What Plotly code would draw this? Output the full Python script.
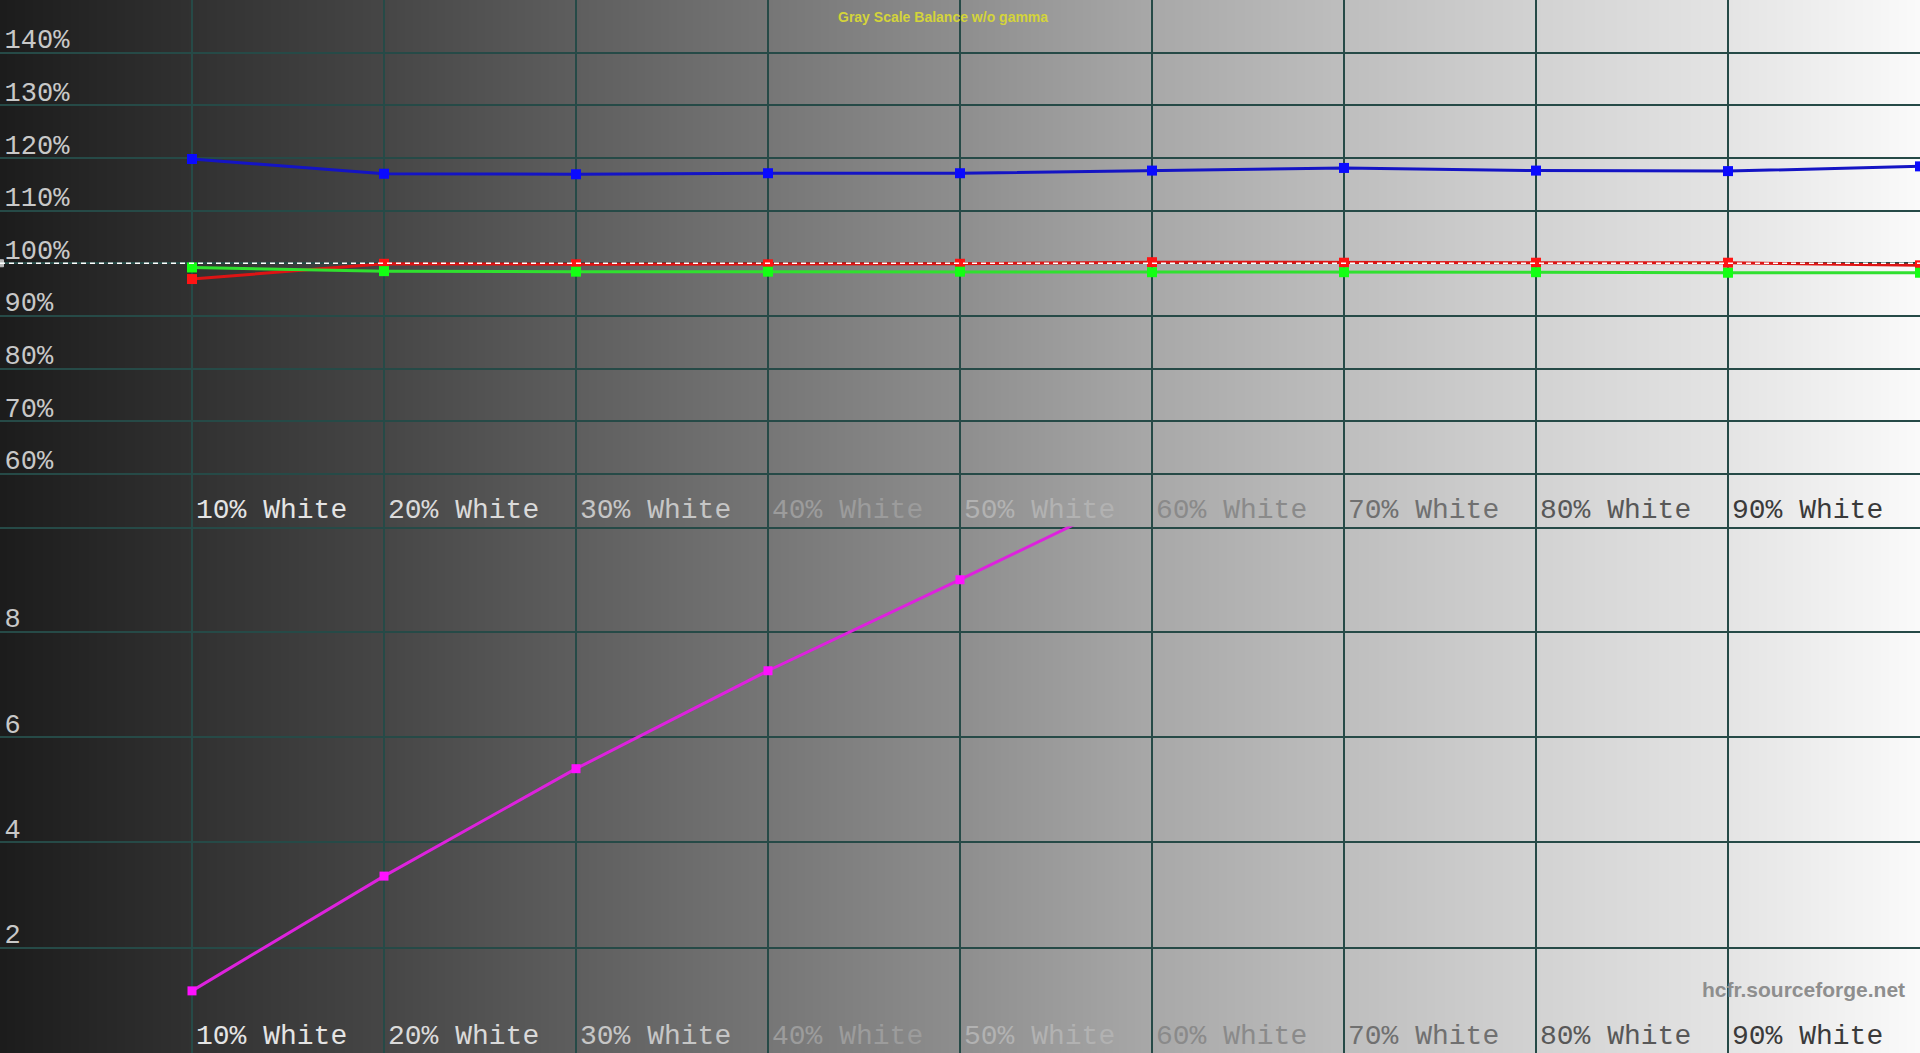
import base64
import struct
import zlib

import numpy as np
import plotly.graph_objects as go
from plotly.subplots import make_subplots

# ── Data ─────────────────────────────────────────────────────────────────────
LEVELS = [10, 20, 30, 40, 50, 60, 70, 80, 90, 100]
LEVEL_LABELS = ["10% White", "20% White", "30% White", "40% White", "50% White",
                "60% White", "70% White", "80% White", "90% White"]

RED = [97.0, 99.9, 99.8, 99.8, 99.9, 100.2, 100.1, 100.1, 100.1, 99.6]
GREEN = [99.2, 98.5, 98.4, 98.4, 98.4, 98.3, 98.3, 98.3, 98.2, 98.2]
BLUE = [119.8, 117.0, 116.9, 117.1, 117.1, 117.6, 118.1, 117.6, 117.5, 118.4]

DELTA_LEVELS = [10, 20, 30, 40, 50, 60]
DELTA_E = [1.18, 3.36, 5.40, 7.26, 8.99, 10.75]

REF_X = [0, 100]
REF_Y = [100, 100]

BAL_TICKS = [60, 70, 80, 90, 100, 110, 120, 130, 140]
BAL_TICKTEXT = ["60%", "70%", "80%", "90%", "100%", "110%", "120%", "130%", "140%"]
DE_TICKS = [2, 4, 6, 8]
DE_TICKTEXT = ["2", "4", "6", "8"]

# grey ramp behind the chart (stimulus level -> grey value)
RAMP_X = [0, 10, 20, 30, 40, 50, 60, 70, 80, 90, 100]
RAMP_GREY = [28, 49, 70, 94, 118, 142, 168, 190, 210, 228, 250]

# label colours follow the ramp (light on dark, dark on light)
LABEL_COLORS = ["#e4e4e4", "#dadada", "#c6c6c6", "#9c9c9c", "#b2b2b2",
                "#8a8a8a", "#707070", "#585858", "#3a3a3a"]

GRID = "#264a47"
MONO = "Liberation Mono, Cousine, DejaVu Sans Mono, monospace"


def _ramp_png(xs, greys, width=960):
    """Tiny 2-row PNG with a horizontal grey ramp, as a data URI."""
    pos = np.linspace(0, 100, width)
    vals = np.interp(pos, xs, greys).round().astype(np.uint8)
    row = b"\x00" + bytes(np.repeat(vals, 3).tolist())
    raw = row * 2

    def chunk(tag, data):
        return (struct.pack(">I", len(data)) + tag + data
                + struct.pack(">I", zlib.crc32(tag + data) & 0xFFFFFFFF))

    png = (b"\x89PNG\r\n\x1a\n"
           + chunk(b"IHDR", struct.pack(">IIBBBBB", width, 2, 8, 2, 0, 0, 0))
           + chunk(b"IDAT", zlib.compress(raw))
           + chunk(b"IEND", b""))
    return "data:image/png;base64," + base64.b64encode(png).decode()


fig = make_subplots(rows=2, cols=1, vertical_spacing=0)

# ── Top: RGB balance ─────────────────────────────────────────────────────────
fig.add_trace(go.Scatter(x=LEVELS, y=RED, mode="lines+markers", name="Red",
                         line=dict(color="#dd1414", width=3),
                         marker=dict(symbol="square", size=10, color="#ff1414")),
              row=1, col=1)
fig.add_trace(go.Scatter(x=LEVELS, y=GREEN, mode="lines+markers", name="Green",
                         line=dict(color="#30e030", width=3),
                         marker=dict(symbol="square", size=10, color="#14ff14")),
              row=1, col=1)
fig.add_trace(go.Scatter(x=LEVELS, y=BLUE, mode="lines+markers", name="Blue",
                         line=dict(color="#1414c4", width=3),
                         marker=dict(symbol="square", size=10, color="#0a0aff")),
              row=1, col=1)
fig.add_trace(go.Scatter(x=REF_X, y=REF_Y, mode="lines+markers", name="Reference",
                         line=dict(color="white", width=1.5, dash="5px,4px"),
                         marker=dict(symbol="square", size=[7, 0], color="white")),
              row=1, col=1)

# ── Bottom: delta E ─────────────────────────────────────────────────────────
fig.add_trace(go.Scatter(x=DELTA_LEVELS, y=DELTA_E, mode="lines+markers", name="dE",
                         line=dict(color="#dd22dd", width=3),
                         marker=dict(symbol="square", size=9, color="#ff10ff")),
              row=2, col=1)

# ── Axes ────────────────────────────────────────────────────────────────────
for r in (1, 2):
    fig.update_xaxes(range=[0, 100], tickvals=LEVELS[:-1], showticklabels=False,
                     ticks="", showgrid=True, gridcolor=GRID, gridwidth=2,
                     zeroline=False, row=r, col=1)
fig.update_xaxes(showline=True, linecolor=GRID, linewidth=2, row=1, col=1)

fig.update_yaxes(range=[50, 150], tickvals=BAL_TICKS, ticktext=BAL_TICKTEXT,
                 row=1, col=1)
fig.update_yaxes(range=[0, 10], tickvals=DE_TICKS, ticktext=DE_TICKTEXT,
                 row=2, col=1)
fig.update_yaxes(ticklabelposition="inside top", ticks="", showgrid=True,
                 ticklabelstandoff=6, ticklabelshift=5,
                 gridcolor=GRID, gridwidth=2, zeroline=False,
                 showline=True, linecolor="#5f7f7d", linewidth=2,
                 tickfont=dict(family=MONO, size=27, color="#c8c8c8"))

# ── Level labels in both panels ─────────────────────────────────────────────
for lvl, label, colr in zip(LEVELS, LEVEL_LABELS, LABEL_COLORS):
    for xr, yr in (("x", "y domain"), ("x2", "y2 domain")):
        fig.add_annotation(x=lvl, xref=xr, y=0, yref=yr, text=label,
                           showarrow=False, xanchor="left", yanchor="bottom",
                           xshift=2, yshift=-1,
                           font=dict(family=MONO, size=28, color=colr))

fig.add_annotation(text="Gray Scale Balance w/o gamma", x=0.491, y=1,
                   xref="paper", yref="paper", xanchor="center", yanchor="top",
                   yshift=-7, showarrow=False,
                   font=dict(family="Liberation Sans, Arial", size=14,
                             color="#d4d43a", weight="bold"))
fig.add_annotation(text="hcfr.sourceforge.net", x=0.993, y=0.06,
                   xref="paper", yref="paper", xanchor="right", yanchor="middle",
                   showarrow=False,
                   font=dict(family="Liberation Sans, Arial", size=21,
                             color="#8e8e8e", weight="bold"))

fig.add_layout_image(source=_ramp_png(RAMP_X, RAMP_GREY), xref="paper", yref="paper",
                     x=0, y=1, sizex=1, sizey=1, xanchor="left", yanchor="top",
                     sizing="stretch", layer="below")

fig.update_layout(width=1920, height=1053, showlegend=False,
                  margin=dict(l=0, r=0, t=0, b=0),
                  paper_bgcolor="#1c1c1c", plot_bgcolor="rgba(0,0,0,0)")

fig.write_html("out.html", config={"displayModeBar": False},
               post_script="document.body.style.margin='0';")
